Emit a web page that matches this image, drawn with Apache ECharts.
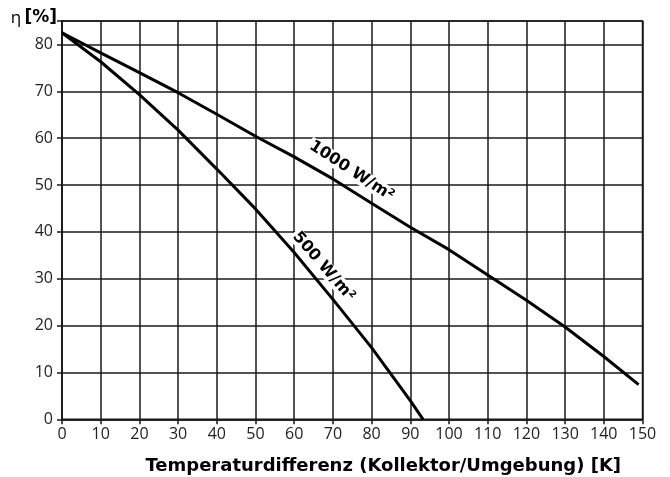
<!DOCTYPE html>
<html>
<head>
<meta charset="utf-8">
<script src="https://cdn.jsdelivr.net/npm/echarts@6/dist/echarts.min.js"></script>
<style>
html,body{margin:0;padding:0;background:#fff;}
#c{width:670px;height:477px;}
</style>
</head>
<body>
<div id="c"></div>
<script>
// Data
const xTitle = 'Temperaturdifferenz (Kollektor/Umgebung) [K]';
const yTitleSymbol = 'η';
const yTitleUnit = '[%]';
const label1000 = '1000 W/m²';
const label500 = '500 W/m²';
const series1000 = [[0,82.5],[10,78.2],[20,74.0],[30,69.7],[40,65.1],[50,60.4],[60,56.0],[70,51.3],[80,46.1],[90,41.0],[100,36.2],[110,30.8],[120,25.4],[130,19.7],[140,13.4],[149,7.4]];
const series500 = [[0,82.5],[10,76.3],[20,69.3],[30,61.7],[40,53.4],[50,44.9],[60,35.6],[70,25.6],[80,15.3],[90,4.0],[93.3,0]];
const label1000Pos = [74.8, 53.0];
const label500Pos = [67.6, 32.6];

const FONT = '"Open Sans", "Noto Sans", sans-serif';
const BOLD = '"DejaVu Sans", "Open Sans", sans-serif';
const chart = echarts.init(document.getElementById('c'), null, {renderer:'canvas'});
const lbl = (text, pos, rot) => ({
  symbol: 'circle', symbolSize: 0, coord: pos, value: text,
  label: {show: true, position: 'inside', formatter: text, rotate: rot,
    fontFamily: BOLD, fontWeight: 'bold', fontSize: 16, color: '#000',
    backgroundColor: '#fff', padding: [0, 2, 0, 2]}
});
chart.setOption({
  animation: false,
  grid: {left: 62, right: 27.5, top: 21, bottom: 57.7, show: true, borderColor: '#1a1a1a', borderWidth: 1.5,
    outerBoundsMode: 'none', containLabel: false},
  xAxis: {
    type: 'value', min: 0, max: 150, interval: 10,
    name: xTitle, nameLocation: 'middle', nameGap: 38,
    nameTextStyle: {fontFamily: BOLD, fontWeight: 'bold', fontSize: 18, color: '#000', padding: [0, 0, 0, 62]},
    axisLine: {show: true, lineStyle: {color: '#1a1a1a', width: 1.5}},
    axisTick: {show: true, length: 5, lineStyle: {color: '#1a1a1a', width: 1.5}},
    axisLabel: {fontFamily: FONT, fontSize: 16, color: '#222', margin: 7},
    splitLine: {show: true, lineStyle: {color: '#1a1a1a', width: 1.5}}
  },
  yAxis: {
    type: 'value', min: 0, max: 85, interval: 10,
    name: '{s|' + yTitleSymbol + '} {u|' + yTitleUnit + '}', nameLocation: 'end', nameGap: 3,
    nameTextStyle: {align: 'right', verticalAlign: 'middle', padding: [0, 5, 0, 0],
      rich: {
        s: {fontFamily: FONT, fontSize: 17, color: '#000'},
        u: {fontFamily: BOLD, fontWeight: 'bold', fontSize: 17, color: '#000'}
      }},
    axisLine: {show: true, lineStyle: {color: '#1a1a1a', width: 1.5}},
    axisTick: {show: true, length: 5, lineStyle: {color: '#1a1a1a', width: 1.5}},
    axisLabel: {fontFamily: FONT, fontSize: 16, color: '#222', margin: 9,
      formatter: v => (v > 80 ? '' : String(v))},
    splitLine: {show: true, lineStyle: {color: '#1a1a1a', width: 1.5}}
  },
  series: [
    {type: 'line', data: series1000, symbol: 'none', smooth: false,
      lineStyle: {color: '#000', width: 3}, z: 3,
      markPoint: {data: [lbl(label1000, label1000Pos, -33)], z: 5}},
    {type: 'line', data: series500, symbol: 'none', smooth: false,
      lineStyle: {color: '#000', width: 3}, z: 3,
      markPoint: {data: [lbl(label500, label500Pos, -49)], z: 5}}
  ]
});
</script>
</body>
</html>
